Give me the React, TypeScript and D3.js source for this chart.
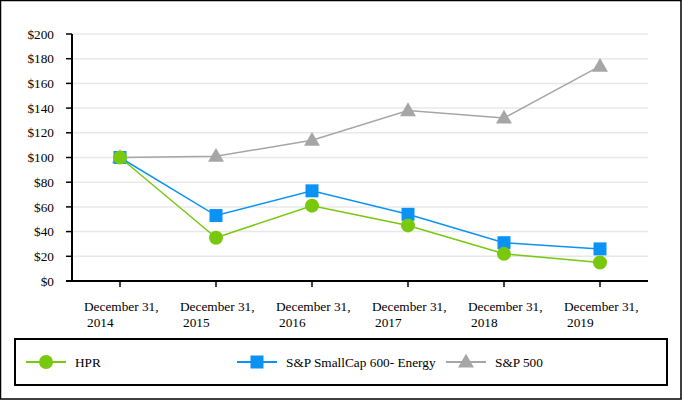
import React from "react";
import * as d3 from "d3";

const categories = ["2014", "2015", "2016", "2017", "2018", "2019"];
const hprValues = [100, 35, 61, 45, 22, 15];
const smallCapValues = [100, 53, 73, 54, 31, 26];
const sp500Values = [100, 101, 114, 138, 132, 174];
const yTicks = [0, 20, 40, 60, 80, 100, 120, 140, 160, 180, 200];

const W = 682;
const H = 400;
const margin = { top: 34, right: 34, bottom: 119, left: 72 };

const GREEN = "#78C80E";
const BLUE = "#0A93F5";
const GRAY = "#A6A6A6";
const FONT = "Liberation Serif";

type Marker = "circle" | "square" | "triangle";

function MarkerShape({ kind, x, y, color }: { kind: Marker; x: number; y: number; color: string }) {
  if (kind === "circle") return <circle cx={x} cy={y} r={7} fill={color} />;
  if (kind === "square") return <rect x={x - 6.5} y={y - 6.5} width={13} height={13} fill={color} />;
  const p = d3.symbol(d3.symbolTriangle, 110)() || "";
  return <path d={p} transform={`translate(${x},${y + 1})`} fill={color} />;
}

export default function App() {
  const innerW = W - margin.left - margin.right;
  const innerH = H - margin.top - margin.bottom;

  const x = d3.scaleBand<string>().domain(categories).range([0, innerW]);
  const y = d3.scaleLinear().domain([0, 200]).range([innerH, 0]);
  const cx = (c: string) => (x(c) as number) + x.bandwidth() / 2;

  const line = d3
    .line<number>()
    .x((_, i) => cx(categories[i]))
    .y((d) => y(d));

  const series: { name: string; values: number[]; color: string; marker: Marker }[] = [
    { name: "S&P 500", values: sp500Values, color: GRAY, marker: "triangle" },
    { name: "S&P SmallCap 600- Energy", values: smallCapValues, color: BLUE, marker: "square" },
    { name: "HPR", values: hprValues, color: GREEN, marker: "circle" },
  ];

  const legendItems = [
    { name: "HPR", color: GREEN, marker: "circle" as Marker, x: 26 },
    { name: "S&P SmallCap 600- Energy", color: BLUE, marker: "square" as Marker, x: 237 },
    { name: "S&P 500", color: GRAY, marker: "triangle" as Marker, x: 446 },
  ];

  const textStyle = { fontFamily: FONT, fontSize: 13.3 };

  return (
    <div style={{ position: "fixed", left: 0, top: 0 }}>
      <svg width={W} height={H} style={{ display: "block", background: "#fff" }}>
        <rect x={0.5} y={0.5} width={W - 1.5} height={H - 1.5} fill="none" stroke="#000" strokeWidth={1.5} />
        <g transform={`translate(${margin.left},${margin.top})`}>
          {yTicks.map((t) => (
            <g key={t}>
              {t > 0 && (
                <line x1={0} x2={innerW} y1={y(t)} y2={y(t)} stroke="#E8E8E8" strokeWidth={1.5} />
              )}
              <line x1={-6} x2={0} y1={y(t)} y2={y(t)} stroke="#000" strokeWidth={1.5} />
              <text x={-18} y={y(t)} dy="0.35em" textAnchor="end" style={textStyle} fill="#000">
                ${t}
              </text>
            </g>
          ))}
          <line x1={0} x2={0} y1={0} y2={innerH} stroke="#000" strokeWidth={2} />
          <line x1={-6} x2={innerW} y1={innerH} y2={innerH} stroke="#000" strokeWidth={2} />
          {categories.map((c) => (
            <g key={c}>
              <line x1={cx(c)} x2={cx(c)} y1={innerH} y2={innerH + 6} stroke="#000" strokeWidth={1.5} />
              <text x={cx(c) - 36} y={innerH + 30} style={textStyle} fill="#000">
                December 31,
              </text>
              <text x={cx(c) - 33} y={innerH + 46} style={textStyle} fill="#000">
                {c}
              </text>
            </g>
          ))}
          {series.map((s) => (
            <g key={s.name}>
              <path d={line(s.values) || ""} fill="none" stroke={s.color} strokeWidth={1.5} />
              {s.values.map((v, i) => (
                <MarkerShape key={i} kind={s.marker} x={cx(categories[i])} y={y(v)} color={s.color} />
              ))}
            </g>
          ))}
        </g>
        <rect x={15} y={339} width={652} height={46} fill="none" stroke="#000" strokeWidth={2} />
        {legendItems.map((l) => (
          <g key={l.name}>
            <line x1={l.x} x2={l.x + 40} y1={362} y2={362} stroke={l.color} strokeWidth={2} />
            <MarkerShape kind={l.marker} x={l.x + 20} y={362} color={l.color} />
            <text x={l.x + 49} y={362} dy="0.35em" style={textStyle} fill="#000">
              {l.name}
            </text>
          </g>
        ))}
      </svg>
    </div>
  );
}
